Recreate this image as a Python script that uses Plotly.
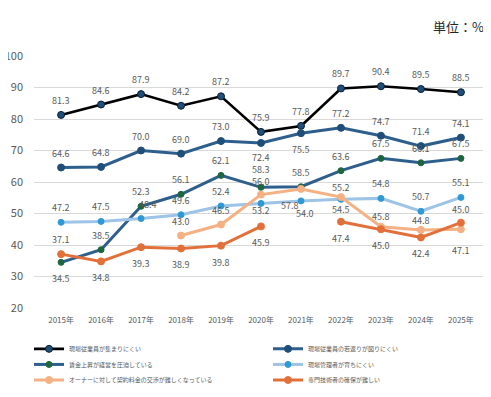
import plotly.graph_objects as go

years = ["2015年", "2016年", "2017年", "2018年", "2019年", "2020年",
         "2021年", "2022年", "2023年", "2024年", "2025年"]

names = [
    "現場従業員が集まりにくい",
    "現場従業員の若返りが図りにくい",
    "賃金上昇が経営を圧迫している",
    "現場管理者が育ちにくい",
    "オーナーに対して契約料金の交渉が難しくなっている",
    "専門技術者の確保が難しい",
]

s_gather = [81.3, 84.6, 87.9, 84.2, 87.2, 75.9, 77.8, 89.7, 90.4, 89.5, 88.5]
s_young = [64.6, 64.8, 70.0, 69.0, 73.0, 72.4, 75.5, 77.2, 74.7, 71.4, 74.1]
s_wage = [34.5, 38.5, 52.3, 56.1, 62.1, 58.3, 58.5, 63.6, 67.5, 66.1, 67.5]
s_manager = [47.2, 47.5, 48.4, 49.6, 52.4, 53.2, 54.0, 54.5, 54.8, 50.7, 55.1]
s_owner = [None, None, None, 43.0, 46.5, 56.0, 57.8, 55.2, 45.8, 44.8, 45.0]
s_expert = [37.1, 34.8, 39.3, 38.9, 39.8, 45.9, None, 47.4, 45.0, 42.4, 47.1]

series = [s_gather, s_young, s_wage, s_manager, s_owner, s_expert]

# label placement: T = above the point, B = below
T, B = "T", "B"
label_pos = [
    [T] * 11,
    [T, T, T, T, T, B, B, T, T, T, T],
    [B, T, T, T, T, T, T, T, T, T, T],
    [T, T, T, T, T, B, B, B, T, T, T],
    [T, T, T, T, T, T, B, T, T, T, T],
    [T, B, B, B, B, B, B, B, B, B, B],
]
BASE_SHIFT = {T: 14.5, B: -16.5}
# fine nudges (series index, point index) -> (dx, dy) in pixels, dy positive = up
nudges = {
    (1, 5): (0, 2),
    (2, 5): (0, 3.5),
    (3, 2): (7, 0),
    (3, 5): (0, 9.5),
    (3, 6): (4, 4),
    (3, 7): (0, 6.5),
    (4, 5): (0, -1.5),
    (4, 6): (-11, 0),
    (4, 7): (0, -4.5),
    (4, 8): (0, -4.5),
    (4, 9): (0, -5),
    (4, 10): (0, 5),
    (5, 10): (0, -11),
}

styles = [
    dict(line="#000000", marker="#1F4E79", mline="#0A1F33", lw=2.6, ms=7),
    dict(line="#2E5F8C", marker="#1F4E79", mline="#1F4E79", lw=3.0, ms=7),
    dict(line="#2E5F8C", marker="#1E6640", mline="#1E6640", lw=3.0, ms=6),
    dict(line="#9DC3E6", marker="#2E9AD4", mline="#2E9AD4", lw=3.0, ms=6),
    dict(line="#F4B183", marker="#F4B183", mline="#F4B183", lw=3.0, ms=7),
    dict(line="#E2703A", marker="#E2703A", mline="#E2703A", lw=3.0, ms=7),
]

FONT = "Noto Sans CJK JP"
GRAY = "#595959"

W, H = 491, 397
ML, MR, MT, MB = 26, 11, 48, 90
PW, PH = W - ML - MR, H - MT - MB

fig = go.Figure()
legend_xy = [(21, 349), (260, 349), (21, 365), (260, 365), (21, 381), (260, 381)]

annotations = []
for i, (nm, vals, st) in enumerate(zip(names, series, styles)):
    lg = "legend" if i == 0 else f"legend{i+1}"
    fig.add_trace(go.Scatter(
        x=years, y=vals, name=nm, mode="lines+markers",
        line=dict(color=st["line"], width=st["lw"]),
        marker=dict(color=st["marker"], size=st["ms"],
                    line=dict(color=st["mline"], width=1)),
        connectgaps=False, legend=lg, cliponaxis=False,
    ))
    for j, (yr, v) in enumerate(zip(years, vals)):
        if v is None:
            continue
        dx, dy = nudges.get((i, j), (0, 0))
        annotations.append(dict(
            x=yr, y=v, xref="x", yref="y", text=f"{v:.1f}", showarrow=False,
            xanchor="center", yanchor="middle",
            xshift=dx, yshift=BASE_SHIFT[label_pos[i][j]] + dy,
            font=dict(family=FONT, size=9, color=GRAY),
        ))

layout_legends = {}
for i, (lx, ly) in enumerate(legend_xy):
    key = "legend" if i == 0 else f"legend{i+1}"
    layout_legends[key] = dict(
        x=(lx - ML) / PW, y=(H - MB - ly) / PH,
        xanchor="left", yanchor="middle",
        font=dict(family=FONT, size=6, color=GRAY),
        bgcolor="rgba(0,0,0,0)", borderwidth=0,
    )

annotations.append(dict(
    text="単位：%", xref="paper", yref="paper",
    x=(478 - ML) / PW, y=(H - MB - 18) / PH, xanchor="right", yanchor="middle",
    showarrow=False, font=dict(family=FONT, size=13, color="#262626"),
))

fig.update_layout(
    width=W, height=H,
    margin=dict(l=ML, r=MR, t=MT, b=MB),
    paper_bgcolor="white", plot_bgcolor="white",
    font=dict(family=FONT, color=GRAY),
    showlegend=True,
    xaxis=dict(type="category", showgrid=False, showline=False, zeroline=False,
               ticks="", tickfont=dict(family=FONT, size=8, color=GRAY),
               ticklabelstandoff=6, automargin=False),
    yaxis=dict(range=[20, 100], dtick=10, showgrid=True, gridcolor="#D9D9D9",
               gridwidth=1, zeroline=False, showline=False, ticks="",
               tickfont=dict(family=FONT, size=11, color=GRAY),
               ticklabelstandoff=10, automargin=False),
    annotations=annotations,
    **layout_legends,
)

fig.write_html("out.html")
